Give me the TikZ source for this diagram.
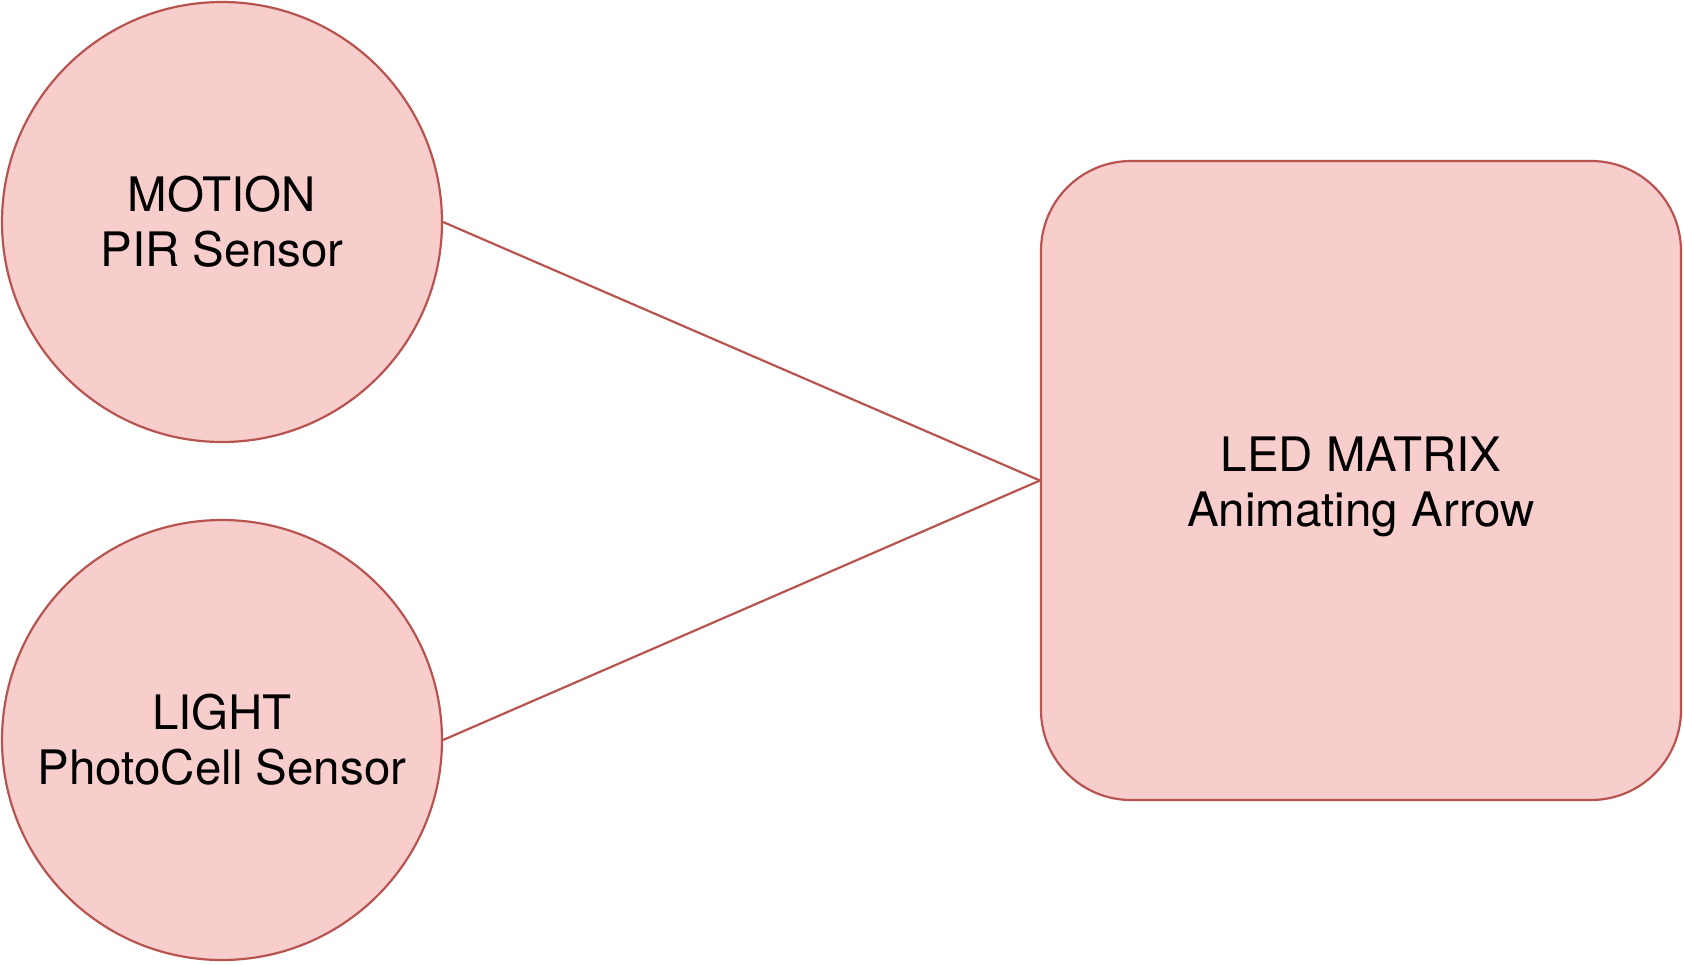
\documentclass[tikz,border=0pt]{standalone}
\usepackage{fontspec}
\setmainfont{TeX Gyre Heros}
\definecolor{rfill}{HTML}{F8CECC}
\definecolor{rdraw}{HTML}{B85450}
\begin{document}
\begin{tikzpicture}[x=1pt,y=-1pt,
  lbl/.style={font=\fontsize{47.5}{55}\selectfont, align=center, text=black},
  sensor/.style={circle, draw=rdraw, fill=rfill, line width=2.2pt, minimum size=440pt, inner sep=0pt, lbl},
  ledbox/.style={rectangle, rounded corners=90pt, draw=rdraw, fill=rfill, line width=2.2pt, minimum width=640pt, minimum height=639pt, inner sep=0pt},
  link/.style={draw=rdraw, line width=2.2pt}]
\useasboundingbox (0,0) rectangle (1684,964);
\node[sensor] (motion) at (222,222) {MOTION\\PIR Sensor};
\node[sensor] (light) at (222,740) {LIGHT\\PhotoCell Sensor};
\node[ledbox] (led) at (1361,480.5) {};
\node[lbl] (ledtext) at ([yshift=-6pt]led.center) {LED MATRIX\\Animating Arrow};
\coordinate (j) at (led.west);
\draw[link] (motion.east) -- (j);
\draw[link] (light.east) -- (j);
\end{tikzpicture}
\end{document}
